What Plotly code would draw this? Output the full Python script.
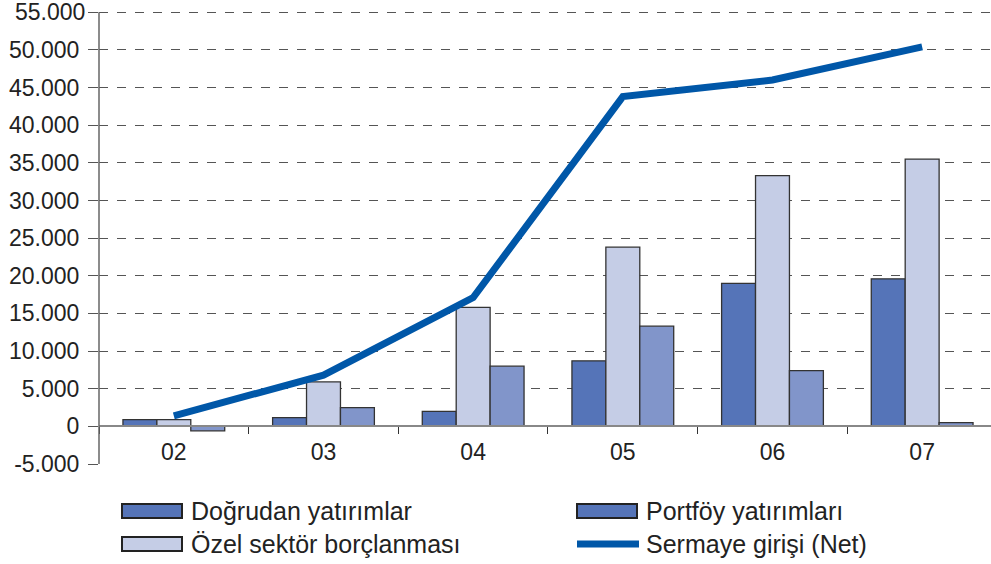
import plotly.graph_objects as go

# ---- data ----
years = ["02", "03", "04", "05", "06", "07"]
dogrudan = [900, 1150, 2000, 8700, 19000, 19600]
ozel = [900, 5900, 15800, 23800, 33300, 35500]
portfoy = [-600, 2500, 8000, 13300, 7400, 500]
sermaye = [1400, 6800, 17100, 43800, 46000, 50400]

y_tickvals = [-5000, 0, 5000, 10000, 15000, 20000, 25000, 30000, 35000, 40000, 45000, 50000, 55000]
y_ticktext = ["-5.000", "0", "5.000", "10.000", "15.000", "20.000", "25.000", "30.000",
              "35.000", "40.000", "45.000", "50.000", "55.000"]

names = ["Doğrudan yatırımlar", "Özel sektör borçlanması", "Portföy yatırımları", "Sermaye girişi (Net)"]

# ---- style ----
W, H = 991, 564
Y_MIN, Y_MAX, Y_TOP = -5000, 55000, 55700
PX_PER_UNIT = 452 / (Y_MAX - Y_MIN)
ML, MR, MB = 99, 0, 100
MT = 12 - (Y_TOP - Y_MAX) * PX_PER_UNIT
FONT = "Liberation Sans, Arial, Helvetica, sans-serif"
C_DOG = "#5574B8"
C_OZEL = "#C5CDE6"
C_PORT = "#8195CA"
C_LINE = "#0057A8"
EDGE = "#333333"


def px(x):
    return (x - ML) / (W - ML - MR)


def py(y):
    return (H - MB - y) / (H - MT - MB)


fig = go.Figure()
for vals, col, nm in [(dogrudan, C_DOG, names[0]), (ozel, C_OZEL, names[1]), (portfoy, C_PORT, names[2])]:
    fig.add_trace(go.Bar(x=years, y=vals, name=nm, marker=dict(color=col, line=dict(color=EDGE, width=1.3)),
                         showlegend=False))
fig.add_trace(go.Scatter(x=years, y=sermaye, name=names[3], mode="lines",
                         line=dict(color=C_LINE, width=7), showlegend=False))

zero_pos = py(426)

fig.update_layout(
    width=W, height=H,
    margin=dict(l=ML, r=MR, t=MT, b=MB),
    paper_bgcolor="white", plot_bgcolor="white",
    barmode="group", bargap=0.32, bargroupgap=0,
    font=dict(family=FONT, size=23, color="#222"),
    showlegend=False,
    xaxis=dict(
        type="category", range=[-0.5, 5.46],
        anchor="free", position=zero_pos,
        showline=True, linecolor="#888", linewidth=1.5,
        ticks="outside", ticklen=7, tickcolor="#333", tickwidth=1,
        tickson="boundaries", showgrid=False,
        tickfont=dict(family=FONT, size=23, color="#222"),
        ticklabelstandoff=6,
    ),
    yaxis=dict(
        range=[Y_MIN, Y_TOP],
        tickvals=y_tickvals, ticktext=y_ticktext,
        showgrid=True, gridcolor="#555", griddash="dash", gridwidth=1,
        zeroline=False,
        showline=False,
        ticks="outside", ticklen=10, tickcolor="#555", tickwidth=1,
        tickfont=dict(family=FONT, size=23, color="#222"),
        ticklabelstandoff=4,
    ),
)

# ---- left axis line (only over the tick span) ----
shapes = [dict(type="line", xref="paper", yref="y", x0=0, x1=0, y0=Y_MIN, y1=Y_MAX,
               line=dict(color="#666", width=1.5))]

# top tick label (plotly hides it because it touches the page edge)
annotations = [dict(text=y_ticktext[-1], xref="paper", yref="y", x=px(85.5), y=y_tickvals[-1],
                    xanchor="right", yanchor="middle", showarrow=False, borderpad=0,
                    font=dict(family=FONT, size=23, color="#222"))]

# ---- custom legend ----
legend_items = [
    (names[0], "bar", C_DOG, 122, 511),
    (names[1], "bar", C_OZEL, 122, 544),
    (names[2], "bar", C_DOG, 577, 511),
    (names[3], "line", C_LINE, 577, 544),
]
for nm, kind, col, x0, yc in legend_items:
    if kind == "bar":
        shapes.append(dict(type="rect", xref="paper", yref="paper",
                           x0=px(x0), x1=px(x0 + 60), y0=py(yc - 7), y1=py(yc + 7),
                           fillcolor=col, line=dict(color="#222", width=2)))
    else:
        shapes.append(dict(type="line", xref="paper", yref="paper",
                           x0=px(x0), x1=px(x0 + 62), y0=py(yc), y1=py(yc),
                           line=dict(color=col, width=7)))
    annotations.append(dict(text=nm, xref="paper", yref="paper", x=px(x0 + 67), y=py(yc),
                            xanchor="left", yanchor="middle", showarrow=False,
                            font=dict(family=FONT, size=25, color="#222")))

fig.update_layout(shapes=shapes, annotations=annotations)

fig.write_html("out.html", config={"displayModeBar": False},
               post_script="document.body.style.margin='0';document.body.style.padding='0';")
